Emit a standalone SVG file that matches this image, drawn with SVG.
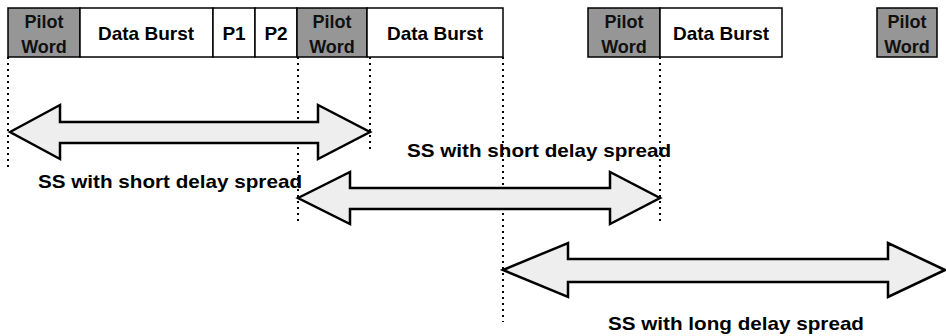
<svg xmlns="http://www.w3.org/2000/svg" width="946" height="336" viewBox="0 0 946 336">
<defs>
<style>
.box{fill:#fff;stroke:#000;stroke-width:1.5}
.pilot{fill:#969696;stroke:#000;stroke-width:1.5}
.bt{font-family:"Liberation Sans",Arial,sans-serif;font-weight:bold;font-size:19px;fill:#000;text-anchor:middle}
.pt{font-family:"Liberation Sans",Arial,sans-serif;font-weight:bold;font-size:18px;fill:#111;text-anchor:middle}
.lbl{font-family:"Liberation Sans",Arial,sans-serif;font-weight:bold;font-size:19px;fill:#000}
.dot{stroke:#000;stroke-width:2;stroke-dasharray:2 4;fill:none}
.arr{fill:#eeeeee;stroke:#000;stroke-width:2.5;stroke-linejoin:miter}
</style>
</defs>
<rect width="946" height="336" fill="#fff"/>
<g id="connectors">
<line class="dot" x1="8" y1="57" x2="8" y2="168" stroke-width="1" stroke="#555"/>
<line class="dot" x1="298" y1="57" x2="298" y2="222"/>
<line class="dot" x1="370" y1="57" x2="370" y2="150"/>
<line class="dot" x1="503" y1="57" x2="503" y2="322"/>
<line class="dot" x1="660" y1="57" x2="660" y2="222"/>
</g>
<g id="pilot1"><rect class="pilot" x="8" y="8" width="72" height="49"/><text class="pt" x="44" y="28">Pilot</text><text class="pt" x="44" y="53">Word</text></g>
<g id="data1"><rect class="box" x="80" y="8" width="133" height="49"/><text class="bt" x="146" y="40">Data Burst</text></g>
<g id="p1"><rect class="box" x="213" y="8" width="42" height="49"/><text class="bt" x="234" y="40">P1</text></g>
<g id="p2"><rect class="box" x="255" y="8" width="42" height="49"/><text class="bt" x="276" y="40">P2</text></g>
<g id="pilot2"><rect class="pilot" x="297" y="8" width="70" height="49"/><text class="pt" x="332" y="28">Pilot</text><text class="pt" x="332" y="53">Word</text></g>
<g id="data2"><rect class="box" x="367" y="8" width="136" height="49"/><text class="bt" x="435" y="40">Data Burst</text></g>
<g id="pilot3"><rect class="pilot" x="588" y="8" width="72" height="49"/><text class="pt" x="624" y="28">Pilot</text><text class="pt" x="624" y="53">Word</text></g>
<g id="data3"><rect class="box" x="660" y="8" width="122" height="49"/><text class="bt" x="721" y="40">Data Burst</text></g>
<g id="pilot4"><rect class="pilot" x="877" y="8" width="60" height="49"/><text class="pt" x="907" y="28">Pilot</text><text class="pt" x="907" y="53">Word</text></g>
<g id="arrow1"><polygon class="arr" points="10,132 60,105 60,122 318,122 318,105 370,132 318,159 318,143 60,143 60,159"/></g>
<g id="arrow2"><polygon class="arr" points="298,198 350,172 350,188 610,188 610,172 660,198 610,224 610,209 350,209 350,224"/></g>
<g id="arrow3"><polygon class="arr" points="503,270 568,243 568,259 888,259 888,243 945,270 888,297 888,282 568,282 568,297"/></g>
<g id="label1"><text class="lbl" x="38" y="188" textLength="264" lengthAdjust="spacingAndGlyphs">SS with short delay spread</text></g>
<g id="label2"><text class="lbl" x="407" y="157" textLength="264" lengthAdjust="spacingAndGlyphs">SS with short delay spread</text></g>
<g id="label3"><text class="lbl" x="608" y="330" textLength="256" lengthAdjust="spacingAndGlyphs">SS with long delay spread</text></g>
</svg>
